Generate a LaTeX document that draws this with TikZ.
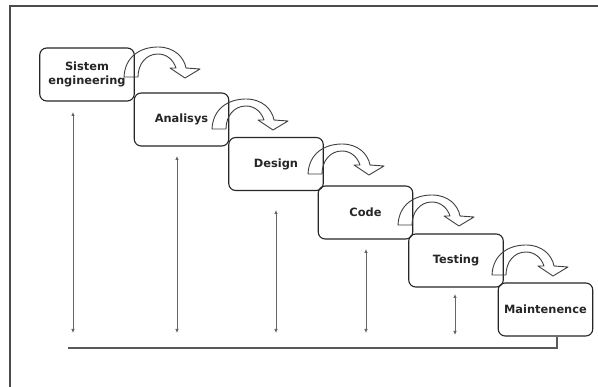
\documentclass[tikz,border=0pt]{standalone}
\usepackage{fontspec}
\setmainfont{DejaVu Sans}
\usetikzlibrary{arrows.meta}
\begin{document}
\begin{tikzpicture}[x=1pt,y=-1pt,
  stage/.style={draw=black!85, line width=1.1pt, rounded corners=7pt,
    minimum width=94.5pt, minimum height=53pt, inner sep=0pt, align=center,
    font=\bfseries\fontsize{11.4}{14}\selectfont, text=black!85},
  turnline/.style={draw=black!75, line width=0.9pt, line join=round},
  span/.style={draw=black!60, line width=0.8pt,
    {Latex[length=4pt,width=3.6pt]}-{Latex[length=4pt,width=3.6pt]}},
  frameline/.style={draw=black!70, line width=2pt},
  baseline/.style={draw=black!65, line width=1.8pt},
  turn/.pic={
    \draw[turnline] (0,0) .. controls (1,-21) and (17,-30) .. (34,-30)
      .. controls (50,-30) and (60,-20) .. (62,-9)
      -- (76,-8) -- (61,1) -- (46,-9) -- (52,-9)
      .. controls (49,-18) and (42,-23) .. (34,-23)
      .. controls (22,-23) and (14,-13) .. (14,0) -- cycle;
  }]
\useasboundingbox (0,0) rectangle (598,387);
\fill[white] (0,0) rectangle (598,387);
% frame
\draw[frameline] (10,387) -- (10,6) -- (598,6);
% stages
\node[stage] (b1) at (87,74.5) {Sistem\\engineering};
\node[stage] (b2) at (181.5,119.5) {Analisys};
\node[stage] (b3) at (276,164) {Design};
\node[stage] (b4) at (365.5,212.5) {Code};
\node[stage] (b5) at (456,260.5) {Testing};
\node[stage] (b6) at (545.5,309.5) {Maintenence};
% turning arrows
\pic at (124,77) {turn};
\pic at (212,129) {turn};
\pic at (308,174) {turn};
\pic at (398,225) {turn};
\pic at (492,275) {turn};
% vertical spans
\coordinate (t1) at (73,112);  \coordinate (u1) at (73,333);
\coordinate (t2) at (177,156); \coordinate (u2) at (177,333);
\coordinate (t3) at (276,210); \coordinate (u3) at (276,333);
\coordinate (t4) at (366,249); \coordinate (u4) at (366,333);
\coordinate (t5) at (455,294); \coordinate (u5) at (455,335);
\draw[span] (t1) -- (u1);
\draw[span] (t2) -- (u2);
\draw[span] (t3) -- (u3);
\draw[span] (t4) -- (u4);
\draw[span] (t5) -- (u5);
% base line
\coordinate (baseL) at (68,348);
\coordinate (m6) at ([xshift=11.5pt]b6.south);
\draw[baseline] (baseL) -| (m6);
\end{tikzpicture}
\end{document}
